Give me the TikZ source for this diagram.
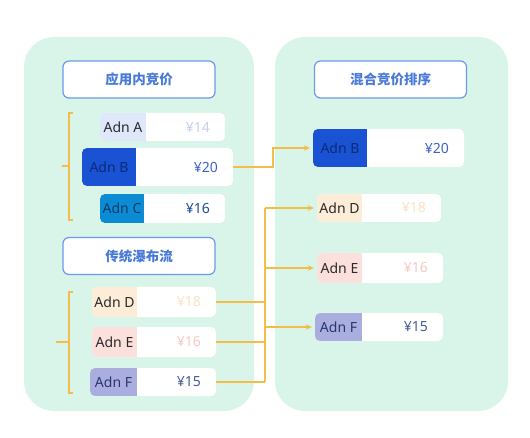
\documentclass[tikz,border=0pt]{standalone}
\usepackage{fontspec}
\setmainfont{Noto Sans}
\newfontfamily\cjk{Noto Sans CJK SC}
\usetikzlibrary{fit,arrows.meta}
\definecolor{mint}{HTML}{D9F5E9}
\definecolor{tborder}{HTML}{6A9BE8}
\definecolor{ttext}{HTML}{4A7AD8}
\definecolor{conn}{HTML}{F2BD48}
\definecolor{labA}{HTML}{DFE8FA}\definecolor{txtA}{HTML}{2A2A2A}\definecolor{prA}{HTML}{C5D0EA}
\definecolor{labB}{HTML}{1A52D4}\definecolor{txtB}{HTML}{0C2A78}\definecolor{prB}{HTML}{3F63C4}
\definecolor{labC}{HTML}{0B8BD3}\definecolor{txtC}{HTML}{0B3A6A}\definecolor{prC}{HTML}{1E4A9A}
\definecolor{labD}{HTML}{FDECD8}\definecolor{txtD}{HTML}{2A2A2A}\definecolor{prD}{HTML}{FBE2C4}
\definecolor{labE}{HTML}{FBE0DC}\definecolor{txtE}{HTML}{2A2A2A}\definecolor{prE}{HTML}{F6C9C2}
\definecolor{labF}{HTML}{A9AEDF}\definecolor{txtF}{HTML}{2A3570}\definecolor{prF}{HTML}{4A5A96}
\tikzset{
  panel/.style={fill=mint, rounded corners=30pt, inner sep=0pt},
  titlebox/.style={draw=tborder, line width=1.2pt, fill=white, rounded corners=6pt,
    minimum width=152pt, minimum height=37pt, text=ttext, font=\cjk\bfseries\fontsize{13.5}{16}\selectfont},
  itembox/.style={fill=white, rounded corners=5pt, inner sep=0pt},
  labtext/.style={inner sep=0pt, font=\fontsize{14}{16}\selectfont},
  pricetext/.style={inner sep=0pt, anchor=east, font=\fontsize{14}{16}\selectfont},
  connline/.style={draw=conn, line width=1.5pt},
  arr/.style={connline, -{Stealth[length=6pt,width=5.5pt]}, shorten >=3pt},
}
\newcommand\adnbox[9]{%
  \node[itembox, fit={(#2,#5) (#4,#6)}] (#1) {};
  \begin{scope}
    \clip[rounded corners=5pt] (#2,#5) rectangle (#4,#6);
    \fill[lab#7] (#2,#5) rectangle (#3,#6);
  \end{scope}
  \node[labtext, text=txt#7] (#1-l) at ({(#2+#3)/2},{(#5+#6)/2}) {#8};
  \node[pricetext, text=pr#7] (#1-p) at ({#4-15},{(#5+#6)/2}) {#9};
}
\begin{document}
\begin{tikzpicture}[x=1pt,y=-1pt]
\useasboundingbox[fill=white] (0,0) rectangle (530,438);
% panels
\node[panel, fit={(24,37) (254,411)}] (pL) {};
\node[panel, fit={(275,37) (508,411)}] (pR) {};
% titles
\node[titlebox] (t1) at (139,79.5) {应用内竞价};
\node[titlebox] (t2) at (139,256) {传统瀑布流};
\node[titlebox] (t3) at (390.5,79.5) {混合竞价排序};
% items left
\adnbox{aL}{100}{146}{225}{113}{141}{A}{Adn A}{¥14}
\adnbox{bL}{82}{136}{233}{148}{186}{B}{Adn B}{¥20}
\adnbox{cL}{100}{144}{225}{194}{223}{C}{Adn C}{¥16}
\adnbox{dL}{92}{137}{216}{287}{317}{D}{Adn D}{¥18}
\adnbox{eL}{92}{137}{216}{327}{357}{E}{Adn E}{¥16}
\adnbox{fL}{90}{137}{216}{368}{396}{F}{Adn F}{¥15}
% items right
\adnbox{bR}{313}{367}{464}{129}{167}{B}{Adn B}{¥20}
\adnbox{dR}{317}{362}{441}{194}{222}{D}{Adn D}{¥18}
\adnbox{eR}{317}{362}{443}{253}{283}{E}{Adn E}{¥16}
\adnbox{fR}{315}{362}{443}{313}{341}{F}{Adn F}{¥15}
% brackets
\draw[connline] (73,113) -- (69,113) -- (69,220) -- (73,220);
\draw[connline] (69,166) -- (62,166);
\draw[connline] (73,292) -- (69,292) -- (69,393) -- (73,393);
\draw[connline] (69,342) -- (56,342);
% connectors
\draw[arr] (bL.east) -- ++(40,0) |- (bR.west);
\coordinate (bus) at (265,0);
\draw[connline] (dL.east) -- (dL.east -| bus);
\draw[connline] (eL.east) -- (eL.east -| bus);
\draw[connline] (fL.east) -- (fL.east -| bus);
\draw[connline] (bus |- dR.west) -- (bus |- fL.east);
\draw[arr] (bus |- dR.west) -- (dR.west);
\draw[arr] (bus |- eR.west) -- (eR.west);
\draw[arr] (bus |- fR.west) -- (fR.west);
\end{tikzpicture}
\end{document}
